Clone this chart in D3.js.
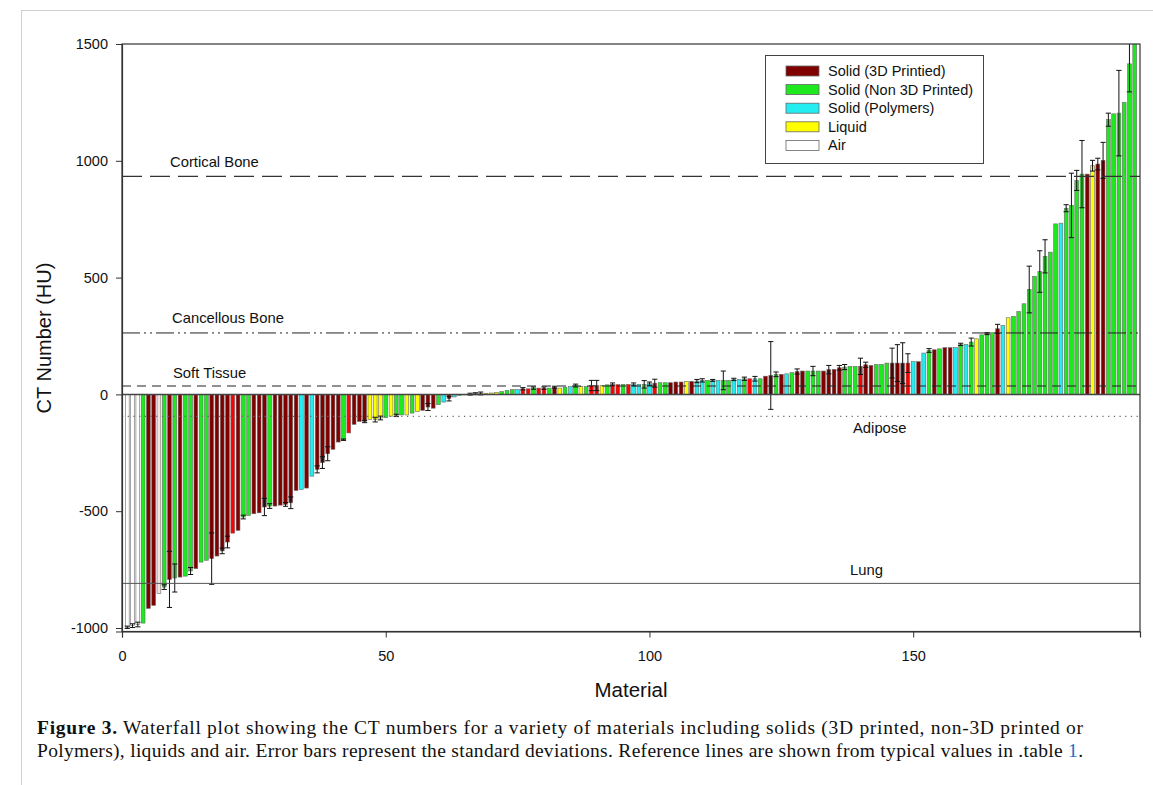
<!DOCTYPE html>
<html><head><meta charset="utf-8">
<script src="https://cdn.jsdelivr.net/npm/d3@7"></script>
<style>
body{margin:0;background:#fff;}
svg{display:block;}
</style></head>
<body>
<svg id="chart" width="1153" height="785"></svg>
<script>
// ---- data ----
const values = [
-997,-990,-985,-979,-916,-903,-852,-825,-792,-786,
-782,-778,-756,-746,-718,-710,-703,-692,-670,-632,
-594,-582,-525,-518,-511,-507,-482,-478,-478,-474,
-471,-464,-411,-407,-401,-350,-321,-292,-254,-235,
-204,-194,-165,-128,-116,-116,-108,-108,-101,-100,
-93,-90,-88,-88,-80,-73,-68,-54,-59,-44,
-33,-18,-11,-4,-2,1,3,4,5,6,
9,12,17,21,21,24,24,27,27,27,
27,31,27,31,34,38,34,34,38,38,
38,41,43,42,43,43,43,43,43,46,
48,50,50,50,53,53,56,56,57,60,
60,60,60,60,60,64,64,67,67,67,
67,78,81,86,86,88,93,98,100,100,
100,100,100,106,107,114,117,120,120,120,
127,124,128,128,134,134,134,134,134,140,
140,177,188,191,195,200,200,200,214,214,
224,238,255,260,264,281,295,328,334,355,
388,449,505,526,591,609,730,733,797,809,
916,943,943,979,986,1002,1176,1201,1204,1250,
1415,1600
];
const errors = [
5,8,10,0,0,0,0,10,120,60,
0,0,15,0,0,0,110,0,12,25,
0,0,8,0,0,0,37,10,0,0,
8,25,0,0,0,0,15,25,30,0,
0,3,0,0,0,5,0,10,8,0,
0,5,0,0,0,0,0,15,0,0,
0,10,0,0,0,4,4,6,0,0,
0,0,0,0,0,5,0,5,0,5,
0,4,0,0,0,6,0,0,22,22,
0,0,6,0,0,0,6,0,16,7,
17,0,0,0,0,0,0,0,7,7,
0,4,0,40,0,5,0,7,0,10,
0,0,145,10,0,0,0,11,0,0,
20,0,0,18,0,10,11,0,0,35,
11,0,0,0,0,64,79,87,40,0,
0,0,8,0,0,0,0,0,5,0,
17,0,0,4,0,19,0,0,0,0,
0,100,0,89,71,0,0,0,15,138,
43,144,0,23,25,77,28,0,183,0,
120,0
];
// D=3D printed, N=non 3D printed, P=polymers, L=liquid, A=air, R=red, K=light
const types = (
"AAANDDKNDN"+"DNNDNNDDDD"+"RDNNDDDNDD"+"DDDPDPDDDD"+"DNRDDDLLLN"+
"LNNLNLDDDN"+"PDPNPDDDLL"+"LNNNPRRNRR"+"NDLNPNLNRR"+"LNRRNRPPNP"+
"RNNDDDLDPP"+"NPPNNPPNRP"+"NDDNDPNDDN"+"NNDDDDNNNR"+"DDNNNDDDRP"+
"DPNDNDDPNP"+"NLNNNDPLNN"+"NNNNNNNPNN"+"NNDLDDNNNN"+"NN").split("");
const materials = values.map((v,i)=>i+1);

const typeColors = {D:"#800000",N:"#1ee81e",P:"#22eef2",L:"#ffff00",A:"#ffffff",R:"#ff0000",K:"#f6e2e2"};
const legendLabels = ["Solid (3D Printied)","Solid (Non 3D Printed)","Solid (Polymers)","Liquid","Air"];
const legendTypes = ["D","N","P","L","A"];

const refNames = ["Cortical Bone","Cancellous Bone","Soft Tissue","Adipose","Lung"];
const refValues = [933, 263, 36, -94, -809];

const xTicks = [0,50,100,150];
const yTicks = [1500,1000,500,0,-500,-1000];

// ---- layout ----
const svg = d3.select("#chart");
const L=122, R=1140, T=44, B=631.5;
const x = d3.scaleLinear().domain([0,193]).range([L,R]);
const y = d3.scaleLinear().domain([-1015,1500]).range([B,T]);
const step = x(1)-x(0);
const bw = step*0.72;
const FONT = "Liberation Sans, Arial, sans-serif";

// page frame lines
svg.append("line").attr("x1",21.5).attr("x2",21.5).attr("y1",10).attr("y2",785).attr("stroke","#d0d0d0");
svg.append("line").attr("x1",21.5).attr("x2",1153).attr("y1",10.5).attr("y2",10.5).attr("stroke","#d0d0d0");

svg.append("clipPath").attr("id","clip").append("rect").attr("x",L).attr("y",T).attr("width",R-L).attr("height",B-T);
const plot = svg.append("g").attr("clip-path","url(#clip)");

const data = materials.map((m,i)=>({m, v:values[i], e:errors[i], t:types[i]}));

plot.selectAll("rect.bar").data(data).join("rect").attr("class","bar")
  .attr("x",d=>x(d.m)-bw/2).attr("width",bw)
  .attr("y",d=>y(Math.max(0,d.v))).attr("height",d=>Math.abs(y(d.v)-y(0)))
  .attr("fill",d=>typeColors[d.t]).attr("stroke","#6a6a6a").attr("stroke-width",0.6);

const eb = plot.selectAll("g.err").data(data.filter(d=>d.e>0)).join("g").attr("class","err")
  .attr("stroke","#111").attr("stroke-width",1);
eb.append("line").attr("x1",d=>x(d.m)).attr("x2",d=>x(d.m)).attr("y1",d=>y(d.v+d.e)).attr("y2",d=>y(d.v-d.e));
eb.append("line").attr("x1",d=>x(d.m)-2.6).attr("x2",d=>x(d.m)+2.6).attr("y1",d=>y(d.v+d.e)).attr("y2",d=>y(d.v+d.e));
eb.append("line").attr("x1",d=>x(d.m)-2.6).attr("x2",d=>x(d.m)+2.6).attr("y1",d=>y(d.v-d.e)).attr("y2",d=>y(d.v-d.e));

// reference lines
const refStyles = [
 {dash:"20,8",w:1.2,c:"#333"},
 {dash:"18,4,2,4,2,4",w:1,c:"#222"},
 {dash:"9,6",w:1.2,c:"#222"},
 {dash:"1.2,4.5",w:1.2,c:"#666"},
 {dash:null,w:1,c:"#555"}
];
refValues.forEach((v,i)=>{
  const s=refStyles[i];
  const ln = plot.append("line").attr("x1",L).attr("x2",R).attr("y1",y(v)).attr("y2",y(v))
    .attr("stroke",s.c).attr("stroke-width",s.w);
  if(s.dash) ln.attr("stroke-dasharray",s.dash);
});
// zero line
plot.append("line").attr("x1",L).attr("x2",R).attr("y1",y(0)).attr("y2",y(0)).attr("stroke","#444").attr("stroke-width",1.5);

// ref labels
const refLabelPos = [[170,-9],[172,-10],[173,-8],[853,17],[850,-8]];
refNames.forEach((n,i)=>{
  svg.append("text").attr("x",refLabelPos[i][0]).attr("y",y(refValues[i])+refLabelPos[i][1])
    .attr("font-family",FONT).attr("font-size",14.8).attr("fill","#111").text(n);
});

// frame
svg.append("rect").attr("x",L).attr("y",T).attr("width",R-L).attr("height",B-T)
  .attr("fill","none").attr("stroke","#333").attr("stroke-width",1.2);

// axes
const ax = svg.append("g").attr("transform",`translate(0,${B})`)
  .call(d3.axisBottom(x).tickValues(xTicks).tickSize(6).tickPadding(13).tickFormat(d=>String(d)));
const ay = svg.append("g").attr("transform",`translate(${L},0)`)
  .call(d3.axisLeft(y).tickValues(yTicks).tickSize(6).tickPadding(8).tickFormat(d=>String(d)));
[ax,ay].forEach(g=>{
  g.select(".domain").attr("stroke","#333").attr("stroke-width",1.2);
  g.selectAll(".tick line").attr("stroke","#333");
  g.selectAll("text").attr("font-family",FONT).attr("font-size",14.5).attr("fill","#111");
});

svg.append("text").attr("x",631).attr("y",697).attr("text-anchor","middle")
  .attr("font-family",FONT).attr("font-size",20.5).attr("fill","#111").text("Material");
svg.append("text").attr("transform","translate(51,338) rotate(-90)").attr("text-anchor","middle")
  .attr("font-family",FONT).attr("font-size",20).attr("fill","#111").text("CT Number (HU)");

// legend
const lg = svg.append("g");
lg.append("rect").attr("x",765.5).attr("y",55.5).attr("width",218).attr("height",108)
  .attr("fill","#fff").attr("stroke","#444").attr("stroke-width",1);
legendLabels.forEach((lab,i)=>{
  const yy = 71 + i*18.6;
  lg.append("rect").attr("x",786).attr("y",yy-5).attr("width",33).attr("height",10)
    .attr("fill",typeColors[legendTypes[i]]).attr("stroke","#666").attr("stroke-width",0.8);
  lg.append("text").attr("x",828).attr("y",yy+5).attr("font-family",FONT)
    .attr("font-size",14.5).attr("fill","#111").text(lab);
});

// caption
const SERIF = "Liberation Serif, Times New Roman, serif";
const c1 = svg.append("text").attr("x",37).attr("y",734).attr("font-family",SERIF).attr("font-size",19.5).attr("fill","#111")
  .attr("textLength",1046).attr("lengthAdjust","spacing");
c1.append("tspan").attr("font-weight","bold").text("Figure 3.");
c1.append("tspan").text(" Waterfall plot showing the CT numbers for a variety of materials including solids (3D printed, non-3D printed or");
const c2 = svg.append("text").attr("x",37).attr("y",757).attr("font-family",SERIF).attr("font-size",19.5).attr("fill","#111")
  .attr("textLength",1046).attr("lengthAdjust","spacing");
c2.append("tspan").text("Polymers), liquids and air. Error bars represent the standard deviations. Reference lines are shown from typical values in .table ");
c2.append("tspan").attr("fill","#1a6fc4").text("1");
c2.append("tspan").text(".");
</script>
</body></html>
